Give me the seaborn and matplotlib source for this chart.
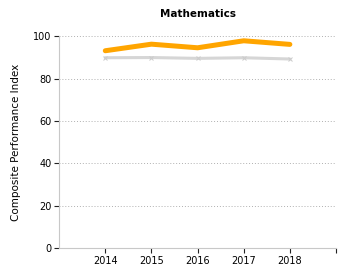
import pandas as pd
import matplotlib.pyplot as plt
import seaborn as sns

years = [2014, 2015, 2016, 2017, 2018]
school = [93.1, 96.2, 94.5, 97.8, 96.1]
state = [89.8, 89.9, 89.5, 89.8, 89.2]

sns.set_style('white')
plt.rcParams['font.family'] = ['DejaVu Sans']
plt.rcParams['text.color'] = 'black'
plt.rcParams['axes.labelcolor'] = 'black'
plt.rcParams['ytick.left'] = True
plt.rcParams['xtick.bottom'] = True

df = pd.DataFrame({'year': years, 'school': school, 'state': state})

dpi = 100
fig = plt.figure(figsize=(350 / dpi, 280 / dpi), dpi=dpi)
ax = fig.add_axes([0.169, 0.114, 0.791, 0.757])

sns.lineplot(x='year', y='state', data=df, color='#d6d6d6', linewidth=2.2,
             marker='x', markersize=3, markeredgecolor='#cccccc', ax=ax)
sns.lineplot(x='year', y='school', data=df, color='#ffa500', linewidth=3.6, ax=ax)

ax.set_xlim(2013, 2019)
ax.set_ylim(0, 100)
ax.set_xticks([2014, 2015, 2016, 2017, 2018, 2019])
ax.set_xticklabels(['2014', '2015', '2016', '2017', '2018', ''])
ax.set_yticks([0, 20, 40, 60, 80, 100])

ax.grid(True, axis='y', color='#b0b0b0', linestyle=(0, (1, 2)), linewidth=0.7)
for side in ['top', 'right']:
    ax.spines[side].set_visible(False)
for side in ['left', 'bottom']:
    ax.spines[side].set(edgecolor='#c8c8c8', linewidth=0.8)

ax.tick_params(axis='both', which='major', direction='out', length=3.5, width=0.8,
               color='#222222', labelcolor='black', labelsize=7, pad=2)

ax.set_xlabel('')
ax.set_ylabel('Composite Performance Index', fontsize=7.5, labelpad=9)
ax.set_title('Mathematics', fontsize=7.5, fontweight='bold', pad=14, color='black')

plt.savefig('out.png', dpi=dpi)
